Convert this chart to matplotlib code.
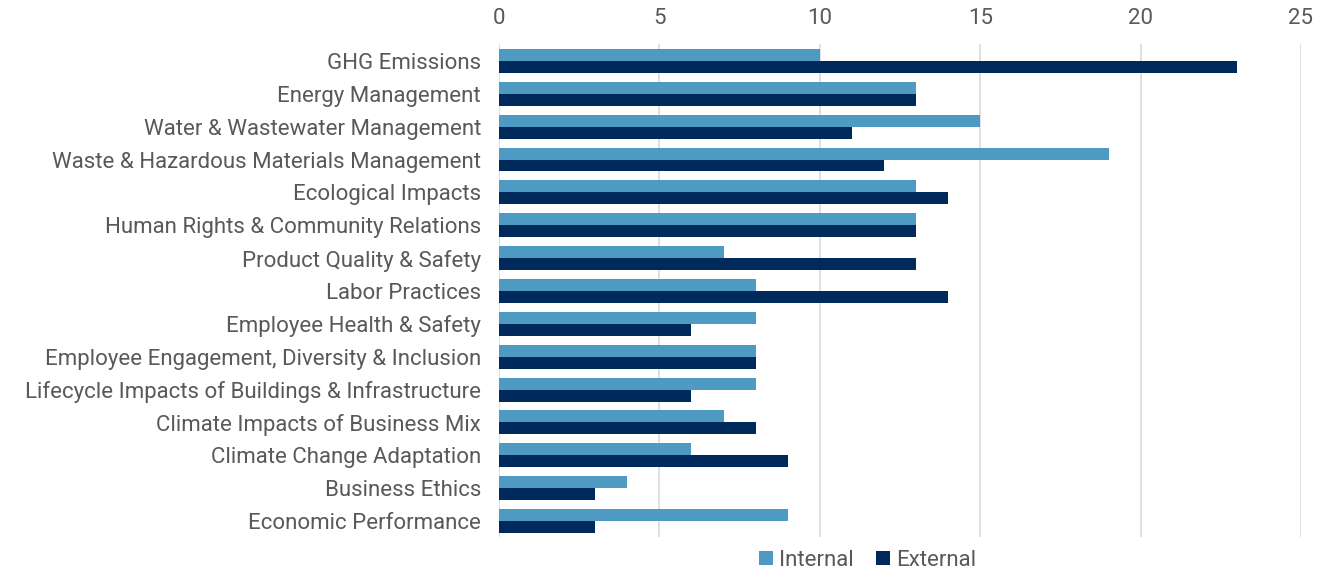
import matplotlib.pyplot as plt
import numpy as np

plt.rcParams['font.family'] = ['Roboto', 'DejaVu Sans']

categories = ['GHG Emissions', 'Energy Management', 'Water & Wastewater Management',
              'Waste & Hazardous Materials Management', 'Ecological Impacts',
              'Human Rights & Community Relations', 'Product Quality & Safety',
              'Labor Practices', 'Employee Health & Safety',
              'Employee Engagement, Diversity & Inclusion',
              'Lifecycle Impacts of Buildings & Infrastructure',
              'Climate Impacts of Business Mix', 'Climate Change Adaptation',
              'Business Ethics', 'Economic Performance']
internal = [10, 13, 15, 19, 13, 13, 7, 8, 8, 8, 8, 7, 6, 4, 9]
external = [23, 13, 11, 12, 14, 13, 13, 14, 6, 8, 6, 8, 9, 3, 3]

light = '#4f9ac2'
dark = '#002a5c'
text_c = '#595959'

fig = plt.figure(figsize=(13.44, 5.73), dpi=100)
ax = fig.add_axes([0.3713, 0.062, 0.5967, 0.8604])

y = np.arange(len(categories))
h = 0.365
ax.barh(y - h / 2, internal, height=h, color=light, label='Internal', zorder=3)
ax.barh(y + h / 2, external, height=h, color=dark, label='External', zorder=3)

ax.set_ylim(len(categories) - 0.5, -0.5)
ax.set_xlim(0, 25)
ax.set_xticks(range(0, 26, 5))
ax.xaxis.tick_top()
ax.set_yticks(y)
ax.set_yticklabels(categories)
ax.tick_params(axis='both', length=0, labelsize=16, colors=text_c)
ax.tick_params(axis='x', pad=11)
ax.tick_params(axis='y', pad=13)
ax.grid(axis='x', color='#d9d9d9', linewidth=1.2, zorder=0)
for s in ax.spines.values():
    s.set_visible(False)

ax.legend(loc='upper center', bbox_to_anchor=(0.46, 0.016), ncol=2, frameon=False,
          fontsize=16, labelcolor=text_c, handlelength=0.6, handleheight=0.6,
          handletextpad=0.3, columnspacing=1.0)

fig.savefig('out.png', dpi=100)
